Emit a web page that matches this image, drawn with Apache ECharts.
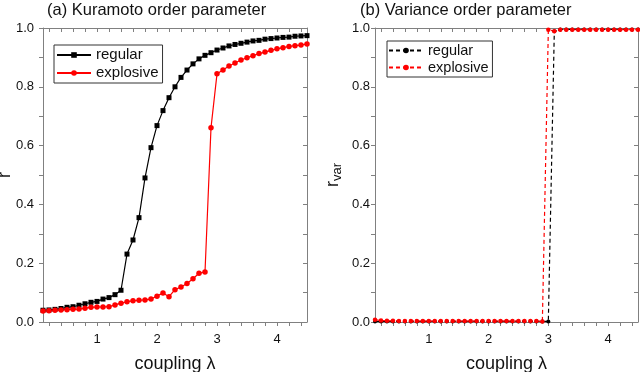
<!DOCTYPE html>
<html><head><meta charset="utf-8">
<script src="https://cdn.jsdelivr.net/npm/echarts@6/dist/echarts.min.js"></script>
<style>html,body{margin:0;padding:0;background:#fff}#c{width:640px;height:372px}</style>
</head><body><div id="c"></div>
<script>
// coupling strength lambda
const lambda = [0.1,0.2,0.3,0.4,0.5,0.6,0.7,0.8,0.9,1.0,1.1,1.2,1.3,1.4,1.5,1.6,1.7,1.8,1.9,2.0,2.1,2.2,2.3,2.4,2.5,2.6,2.7,2.8,2.9,3.0,3.1,3.2,3.3,3.4,3.5,3.6,3.7,3.8,3.9,4.0,4.1,4.2,4.3,4.4,4.5];
// (a) Kuramoto order parameter r
const kuramotoRegular = [0.040,0.041,0.043,0.046,0.050,0.052,0.057,0.062,0.067,0.070,0.078,0.083,0.093,0.108,0.231,0.279,0.355,0.490,0.593,0.668,0.719,0.763,0.800,0.832,0.857,0.878,0.895,0.907,0.916,0.925,0.932,0.939,0.944,0.948,0.952,0.956,0.958,0.962,0.964,0.966,0.968,0.969,0.972,0.973,0.974];
const kuramotoExplosive = [0.037,0.038,0.040,0.041,0.042,0.043,0.044,0.047,0.050,0.051,0.051,0.052,0.058,0.064,0.069,0.072,0.074,0.075,0.078,0.088,0.099,0.086,0.110,0.119,0.131,0.147,0.166,0.170,0.661,0.844,0.857,0.871,0.881,0.891,0.899,0.906,0.913,0.918,0.924,0.929,0.933,0.937,0.940,0.942,0.946];
// (b) Variance order parameter r_var
const varianceRegular = [0.002,0.002,0.002,0.002,0.002,0.002,0.002,0.002,0.002,0.002,0.002,0.002,0.002,0.002,0.002,0.002,0.002,0.002,0.002,0.002,0.002,0.002,0.002,0.002,0.002,0.002,0.002,0.002,0.002,0.002,0.989,0.995,0.995,0.995,0.995,0.995,0.995,0.995,0.995,0.995,0.995,0.995,0.995,0.995,0.995];
const varianceExplosive = [0.008,0.005,0.004,0.004,0.003,0.003,0.003,0.003,0.003,0.003,0.003,0.003,0.003,0.003,0.003,0.003,0.003,0.003,0.003,0.003,0.003,0.003,0.003,0.003,0.003,0.003,0.003,0.003,0.002,0.994,0.989,0.994,0.994,0.994,0.994,0.994,0.994,0.994,0.994,0.994,0.994,0.994,0.994,0.994,0.994];
// ticks
const xTickLabels = [1,2,3,4];
const xTicks = [0.2,0.4,0.6,0.8,1,1.2,1.4,1.6,1.8,2,2.2,2.4,2.6,2.8,3,3.2,3.4,3.6,3.8,4,4.2,4.4];
const seriesNames = ['regular','explosive'];
const titles = ['(a) Kuramoto order parameter','(b) Variance order parameter'];

const FONT = 'Liberation Sans, Arial, sans-serif';
const AX = '#808080';
const TXT = '#111';
const pairs = (xs, ys) => xs.map((x, i) => [x, ys[i]]);

function xAxisBottom(grid) {
  return {
    type:'value', gridIndex:grid, position:'bottom', min:0.1, max:4.5,
    name:'coupling λ', nameLocation:'middle', nameGap:33, nameMoveOverlap:false,
    nameTextStyle:{fontSize:18, color:TXT, fontFamily:FONT},
    axisLine:{show:true, onZero:false, lineStyle:{color:AX, width:1}},
    axisTick:{show:true, inside:false, length:4, customValues:xTicks, lineStyle:{color:AX}},
    axisLabel:{show:true, customValues:xTickLabels, margin:11, fontSize:13, color:TXT, fontFamily:FONT},
    splitLine:{show:false}
  };
}
function xAxisTop(grid) {
  return {
    type:'value', gridIndex:grid, position:'top', min:0.1, max:4.5,
    axisLine:{show:true, onZero:false, lineStyle:{color:AX, width:1}},
    axisTick:{show:true, inside:true, length:4, customValues:xTicks, lineStyle:{color:AX}},
    axisLabel:{show:false}, splitLine:{show:false}
  };
}
function yAxisLeft(grid, name, margin, nameGap) {
  return {
    type:'value', gridIndex:grid, position:'left', min:0, max:1, interval:0.2,
    name:name, nameLocation:'middle', nameGap:nameGap, nameRotate:90, nameMoveOverlap:false,
    nameTextStyle:{fontSize:18, color:TXT, fontFamily:FONT,
      rich:{r:{fontSize:18, color:TXT, fontFamily:FONT, lineHeight:22},
            s:{fontSize:13, color:TXT, fontFamily:FONT, lineHeight:13, verticalAlign:'bottom'}}},
    axisLine:{show:true, onZero:false, lineStyle:{color:AX, width:1}},
    axisTick:{show:true, inside:false, length:4, lineStyle:{color:AX}},
    minorTick:{show:true, splitNumber:2, length:4, lineStyle:{color:AX}},
    axisLabel:{margin:margin, fontSize:13, color:TXT, fontFamily:FONT, formatter:v => v.toFixed(1)},
    splitLine:{show:false}
  };
}
function yAxisRight(grid) {
  return {
    type:'value', gridIndex:grid, position:'right', min:0, max:1, interval:0.2,
    axisLine:{show:true, onZero:false, lineStyle:{color:AX, width:1}},
    axisTick:{show:true, inside:true, length:4, lineStyle:{color:AX}},
    minorTick:{show:true, splitNumber:2, length:4, lineStyle:{color:AX}},
    axisLabel:{show:false}, splitLine:{show:false}
  };
}

const legendBase = {
  orient:'vertical', itemWidth:34, itemHeight:7, itemGap:2,
  borderColor:'#333', borderWidth:1, backgroundColor:'#fff',
  selectedMode:false
};

const option = {
  animation:false,
  backgroundColor:'#fff',
  title:[
    {text:titles[0], left:47, top:2, padding:0, textStyle:{fontSize:16.5, fontWeight:'normal', color:TXT, fontFamily:FONT}},
    {text:titles[1], left:360, top:2, padding:0, textStyle:{fontSize:16.5, fontWeight:'normal', color:TXT, fontFamily:FONT}}
  ],
  grid:[
    {left:43, right:333, top:28, bottom:50, containLabel:false, outerBoundsMode:'none'},
    {left:375, right:2, top:28, bottom:50, containLabel:false, outerBoundsMode:'none'}
  ],
  xAxis:[xAxisBottom(0), xAxisTop(0), xAxisBottom(1), xAxisTop(1)],
  yAxis:[yAxisLeft(0, 'r', 9, 29), yAxisRight(0), yAxisLeft(1, '{r|r}{s|var}', 5, 31), yAxisRight(1)],
  legend:[
    Object.assign({}, legendBase, {left:54, top:45, padding:[2,4,2,2],
      data:['regular','explosive'],
      textStyle:{fontSize:15, lineHeight:16, color:TXT, fontFamily:FONT}}),
    Object.assign({}, legendBase, {left:387, top:41, padding:[2,4,2,1],
      data:['regular_var','explosive_var'],
      formatter:n => n.replace('_var',''),
      textStyle:{fontSize:14.5, lineHeight:15, color:TXT, fontFamily:FONT}})
  ],
  series:[
    {type:'line', name:'regular', xAxisIndex:0, yAxisIndex:0, data:pairs(lambda, kuramotoRegular),
      symbol:'rect', symbolSize:5, lineStyle:{color:'#000', width:1.2}, itemStyle:{color:'#000'}},
    {type:'line', name:'explosive', xAxisIndex:0, yAxisIndex:0, data:pairs(lambda, kuramotoExplosive),
      symbol:'circle', symbolSize:5.5, lineStyle:{color:'#ff0000', width:1.2}, itemStyle:{color:'#ff0000'}},
    {type:'line', name:'regular_var', xAxisIndex:2, yAxisIndex:2, data:pairs(lambda, varianceRegular),
      symbol:'circle', symbolSize:4, lineStyle:{color:'#000', width:1.2, type:[4,3]}, itemStyle:{color:'#000'}},
    {type:'line', name:'explosive_var', xAxisIndex:2, yAxisIndex:2, data:pairs(lambda, varianceExplosive),
      symbol:'circle', symbolSize:4.5, lineStyle:{color:'#ff0000', width:1.2, type:[4,3]}, itemStyle:{color:'#ff0000'}}
  ]
};
const chart = echarts.init(document.getElementById('c'), null, {renderer:'canvas'});
chart.setOption(option);
</script>
</body></html>
